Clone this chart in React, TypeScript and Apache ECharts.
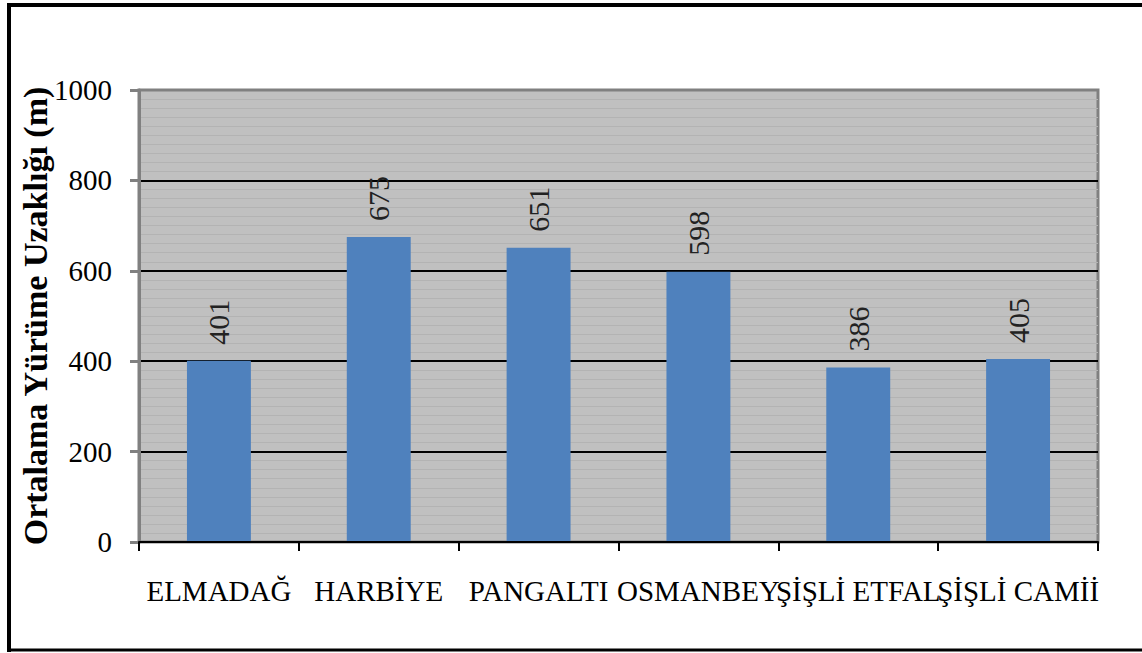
import React, { useEffect, useRef } from "react";
import * as echarts from "echarts";

const categories = ["ELMADAĞ", "HARBİYE", "PANGALTI", "OSMANBEY", "ŞİŞLİ ETFAL", "ŞİŞLİ CAMİİ"];
const values = [401, 675, 651, 598, 386, 405];
const yTicks = { min: 0, max: 1000, interval: 200 };
const yTitle = "Ortalama Yürüme Uzaklığı (m)";

export default function App() {
  const ref = useRef<HTMLDivElement>(null);
  useEffect(() => {
    if (!ref.current) return;
    const chart = echarts.init(ref.current, undefined, { renderer: "svg" });
    const serif = "Liberation Serif";
    chart.setOption({
      animation: false,
      backgroundColor: "#ffffff",
      textStyle: { fontFamily: serif },
      grid: {
        left: 139,
        right: 44,
        top: 90,
        bottom: 111,
        show: true,
        backgroundColor: "#c0c0c0",
        borderColor: "#808080",
        borderWidth: 3,
      },
      graphic: [
        { type: "line", shape: { x1: 9, y1: 5, x2: 1142, y2: 5 }, style: { stroke: "#000", lineWidth: 4 } },
        { type: "line", shape: { x1: 9, y1: 3, x2: 9, y2: 652 }, style: { stroke: "#000", lineWidth: 4 } },
        { type: "line", shape: { x1: 7, y1: 650, x2: 1142, y2: 650 }, style: { stroke: "#000", lineWidth: 3 } },
      ],
      xAxis: {
        type: "category",
        data: categories,
        axisLine: { show: true, lineStyle: { color: "#000", width: 2 } },
        axisTick: { show: true, length: 9, lineStyle: { color: "#000", width: 2 } },
        axisLabel: {
          interval: 0,
          margin: 34,
          color: "#000",
          fontFamily: serif,
          fontSize: 29,
        },
        z: 5,
      },
      yAxis: {
        type: "value",
        min: yTicks.min,
        max: yTicks.max,
        interval: yTicks.interval,
        name: yTitle,
        nameLocation: "middle",
        nameGap: 87,
        nameMoveOverlap: false,
        nameTextStyle: {
          color: "#000",
          fontFamily: serif,
          fontSize: 34,
          fontWeight: "bold",
        },
        axisLine: { show: true, lineStyle: { color: "#808080", width: 3 } },
        axisTick: { show: true, length: 9, lineStyle: { color: "#808080", width: 3 } },
        axisLabel: {
          margin: 27,
          color: "#000",
          fontFamily: serif,
          fontSize: 29,
          formatter: (v: number) => String(v),
        },
        splitLine: {
          show: true,
          showMinLine: false,
          showMaxLine: false,
          lineStyle: { color: "#000", width: 2 },
        },
        minorTick: { show: false, splitNumber: 10 },
        minorSplitLine: { show: true, lineStyle: { color: "#b3b3b3", width: 1 } },
      },
      series: [
        {
          type: "bar",
          data: values,
          barWidth: "40%",
          itemStyle: { color: "#4f81bd" },
        },
        {
          type: "custom",
          data: values.map((v, i) => [i, v]),
          z: 10,
          renderItem: (params: any, api: any) => {
            const p = api.coord([api.value(0), api.value(1)]);
            return {
              type: "text",
              x: p[0],
              y: p[1] - 16,
              rotation: Math.PI / 2,
              style: {
                text: String(api.value(1)),
                fill: "#222",
                font: "normal 30px 'Liberation Serif', serif",
                align: "left",
                verticalAlign: "middle",
              },
            };
          },
        },
      ],
    });
    return () => chart.dispose();
  }, []);
  return (
    <div
      ref={ref}
      style={{ position: "fixed", left: 0, top: 0, width: 1142, height: 653 }}
    />
  );
}
